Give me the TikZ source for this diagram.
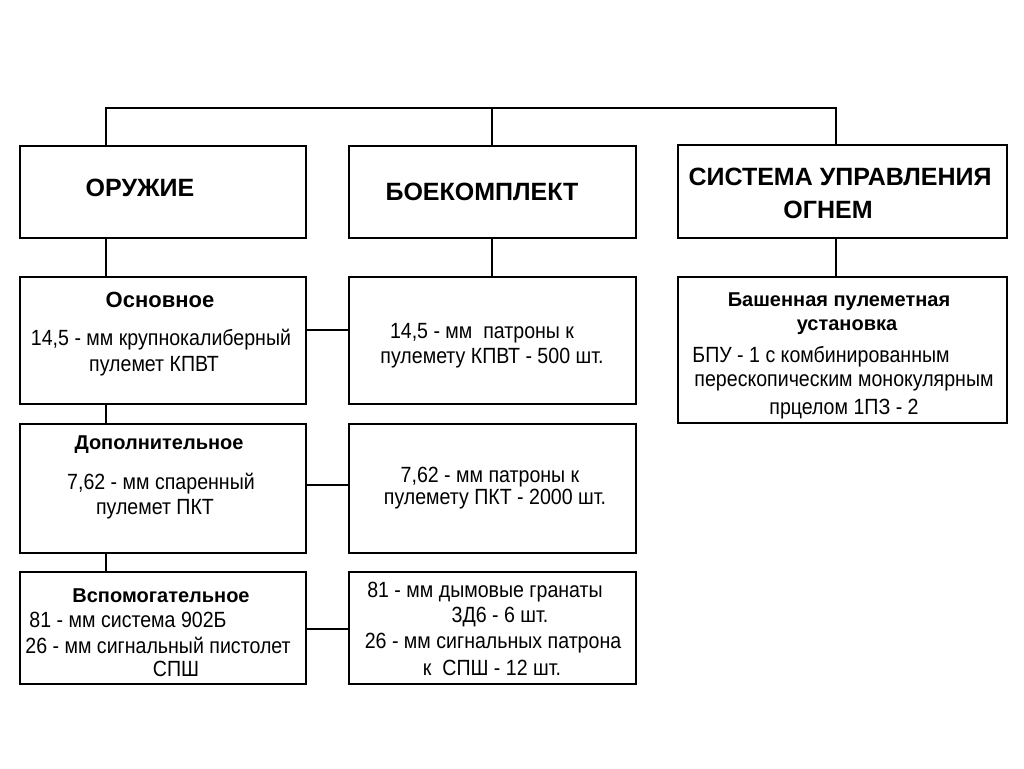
\documentclass[tikz,border=0pt]{standalone}
\usepackage{fontspec}
\setmainfont{Liberation Sans}
\newfontfamily\narrowsans{Liberation Sans}[FakeStretch=0.89]
\begin{document}
\begin{tikzpicture}[x=1pt,y=-1pt,
  box/.style={draw=black, line width=2.4pt, rectangle, inner sep=0pt},
  link/.style={draw=black, line width=2.4pt},
  ttl/.style={font=\fontsize{25}{29}\selectfont\bfseries, inner sep=0pt, align=center},
  sub/.style={font=\fontsize{20}{23}\selectfont\bfseries, inner sep=0pt, align=center},
  txt/.style={font=\narrowsans\fontsize{22}{25}\selectfont, inner sep=0pt, align=center}]
\useasboundingbox (0,0) rectangle (1024,768);
% top boxes
\node[box, minimum width=286pt, minimum height=92pt] (oruzh) at (163,192) {};
\node[box, minimum width=287pt, minimum height=92pt] (boek) at (492.5,192) {};
\node[box, minimum width=329pt, minimum height=93pt] (suo) at (842.5,191.5) {};
% second row
\node[box, minimum width=286pt, minimum height=127pt] (osn) at (163,340.5) {};
\node[box, minimum width=287pt, minimum height=127pt] (b1) at (492.5,340.5) {};
\node[box, minimum width=329pt, minimum height=146pt] (bpu) at (842.5,350) {};
% third row
\node[box, minimum width=286pt, minimum height=129pt] (dop) at (163,488.5) {};
\node[box, minimum width=287pt, minimum height=129pt] (b2) at (492.5,488.5) {};
% fourth row
\node[box, minimum width=286pt, minimum height=112pt] (vsp) at (163,628) {};
\node[box, minimum width=287pt, minimum height=112pt] (b3) at (492.5,628) {};
% bus
\coordinate (busL) at (106,108);
\coordinate (busM) at (492,108);
\coordinate (busR) at (836,108);
\draw[link] (oruzh.north -| busL) -- (busL) -- (busR) -- (suo.north -| busR);
\draw[link] (busM) -- (boek.north -| busM);
\draw[link] (oruzh.south -| busL) -- (osn.north -| busL);
\draw[link] (osn.south -| busL) -- (dop.north -| busL);
\draw[link] (dop.south -| busL) -- (vsp.north -| busL);
\draw[link] (boek.south -| busM) -- (b1.north -| busM);
\draw[link] (suo.south -| busR) -- (bpu.north -| busR);
\coordinate (h1) at (0,330);
\coordinate (h2) at (0,485);
\coordinate (h3) at (0,629);
\draw[link] (osn.east |- h1) -- (b1.west |- h1);
\draw[link] (dop.east |- h2) -- (b2.west |- h2);
\draw[link] (vsp.east |- h3) -- (b3.west |- h3);
% texts
\node[ttl] (t1) at (140,188) {ОРУЖИЕ};
\node[ttl] (t2) at (482,192) {БОЕКОМПЛЕКТ};
\node[ttl] (t3) at (840,177) {СИСТЕМА УПРАВЛЕНИЯ};
\node[ttl] (t4) at (828,210) {ОГНЕМ};
\node[sub, font=\fontsize{22}{25}\selectfont\bfseries] (s1) at (160,300) {Основное};
\node[txt] (a1) at (161,340) {14,5 - мм крупнокалиберный};
\node[txt] (a2) at (154,366) {пулемет КПВТ};
\node[txt] (a3) at (482,333) {14,5 - мм\ \ патроны к};
\node[txt] (a4) at (492,358) {пулемету КПВТ - 500 шт.};
\node[sub] (s2) at (159,445) {Дополнительное};
\node[txt] (a5) at (161,484) {7,62 - мм спаренный};
\node[txt] (a6) at (155,509) {пулемет ПКТ};
\node[txt] (a7) at (490,477) {7,62 - мм патроны к};
\node[txt] (a8) at (495,499) {пулемету ПКТ - 2000 шт.};
\node[sub] (s3) at (161,596) {Вспомогательное};
\node[txt] (a9) at (128,620) {81 - мм система 902Б};
\node[txt] (a10) at (158,645) {26 - мм сигнальный пистолет};
\node[txt] (a11) at (176,669) {СПШ};
\node[txt] (a12) at (485,592) {81 - мм дымовые гранаты};
\node[txt] (a13) at (500,617) {3Д6 - 6 шт.};
\node[txt] (a14) at (493,643) {26 - мм сигнальных патрона};
\node[txt] (a15) at (492,668) {к\ \ СПШ - 12 шт.};
\node[sub] (s4) at (839,302) {Башенная пулеметная};
\node[sub] (s5) at (847,327) {установка};
\node[txt] (a16) at (821,357) {БПУ - 1 с комбинированным};
\node[txt] (a17) at (844,383) {перескопическим монокулярным};
\node[txt] (a18) at (844,409) {прцелом 1ПЗ - 2};
\end{tikzpicture}
\end{document}
